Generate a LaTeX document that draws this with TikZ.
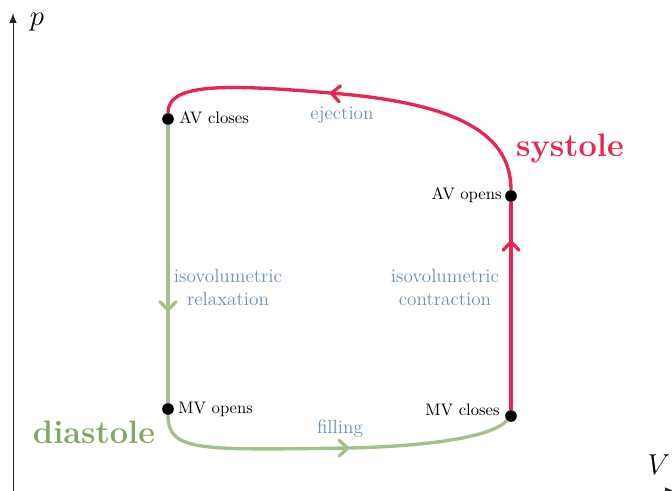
\documentclass[tikz,border=0pt]{standalone}
\usetikzlibrary{arrows.meta,decorations.markings}
\definecolor{sysred}{RGB}{232,38,80}
\definecolor{diagreen}{RGB}{163,192,140}
\definecolor{diatext}{RGB}{128,168,98}
\definecolor{phase}{RGB}{105,145,180}
\begin{document}
\begin{tikzpicture}[x=0.6pt,y=-0.6pt,
  dot/.style={circle,fill=black,inner sep=0pt,minimum size=7pt},
  lbl/.style={font=\fontsize{10}{12}\selectfont, inner sep=0pt, text height=1.5ex, text depth=0.25ex},
  phaselbl/.style={text=phase, font=\fontsize{11.5}{13.8}\selectfont, align=center, inner sep=0pt},
  redline/.style={draw=sysred, line width=2pt},
  greenline/.style={draw=diagreen, line width=2pt},
  midtip/.style={postaction=decorate, decoration={markings,
     mark=at position #1 with {\arrow{Straight Barb[length=5pt,width=9.5pt,round]}}}},
  axis/.style={draw=black!85, line width=0.6pt, -{Latex[length=6pt,width=4.5pt]}},
  big/.style={font=\fontsize{19.5}{22}\selectfont\bfseries, inner sep=0pt}
]
\useasboundingbox (0,0) rectangle (672,491);

% axes
\coordinate (origin) at (13,491);
\coordinate (ytop) at (13,13);
\coordinate (xend) at (675,491);
\draw[axis] (origin) -- (ytop);
\draw[axis] (origin) -- (xend);
\node (plabel) at (37,22) {\fontsize{17}{20}\selectfont$p$};
\node (vlabel) at (659,465) {\fontsize{17}{20}\selectfont$V$};

% state points
\node[dot] (avc) at (168,119) {};
\node[dot] (avo) at (511,196) {};
\node[dot] (mvc) at (511,416) {};
\node[dot] (mvo) at (168,409) {};

\coordinate (ejmid) at (330,93);
\coordinate (fmid) at (350,448);

% systole (red)
\draw[redline, midtip=0.817] (mvc) -- (avo);
\draw[redline, midtip=0.565] (avo) .. controls (511,135) and (460,103) .. (ejmid)
   .. controls (215,83) and (168,85) .. (avc);

% diastole (green)
\draw[greenline, midtip=0.672] (avc) -- (mvo);
\draw[greenline, midtip=0.551] (mvo) .. controls (168,452) and (200,450) .. (fmid)
   .. controls (430,446) and (492,437) .. (mvc);

% point labels
\node[lbl, anchor=west] (avcl) at (179,119) {AV closes};
\node[lbl, anchor=east] (avol) at (502,195) {AV opens};
\node[lbl, anchor=west] (mvol) at (178,409) {MV opens};
\node[lbl, anchor=east] (mvcl) at (500,411) {MV closes};

% phase labels
\node[phaselbl] (ej) at (342,115) {ejection};
\node[phaselbl] (rel) at (228,287) {isovolumetric\\relaxation};
\node[phaselbl] (con) at (445,287) {isovolumetric\\contraction};
\node[phaselbl] (fil) at (340,429) {filling};

\node[big, text=sysred] (sys) at (570,148) {systole};
\node[big, text=diatext] (dia) at (94,432) {diastole};
\end{tikzpicture}
\end{document}
